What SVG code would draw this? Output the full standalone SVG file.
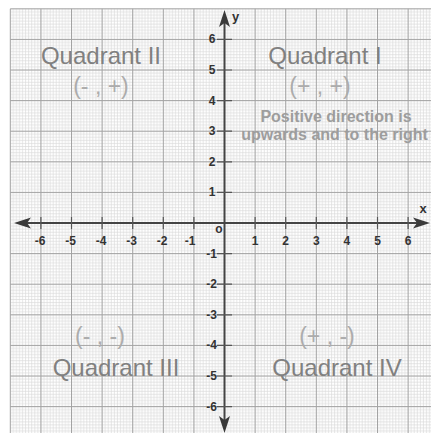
<svg xmlns="http://www.w3.org/2000/svg" width="431" height="433" viewBox="0 0 431 433">
<style>
.major{stroke:#a3a3a3;stroke-width:1;fill:none}
.axis{stroke:#444;stroke-width:2;fill:none}
.tick{stroke:#555;stroke-width:1.2;fill:none}
.head{fill:#3a3a3a}
.num{font-family:"Liberation Sans",Arial,sans-serif;font-weight:bold;font-size:12px;fill:#333}
.quad{font-family:"Liberation Sans",Arial,sans-serif;font-size:24px;fill:#808080;text-anchor:middle}
.sign{font-family:"Liberation Sans",Arial,sans-serif;font-size:23px;fill:#acacac;text-anchor:middle}
.note{font-family:"Liberation Sans",Arial,sans-serif;font-weight:bold;font-size:16px;fill:#9d9d9d;text-anchor:middle}
.lbl{font-family:"Liberation Sans",Arial,sans-serif;font-weight:bold;font-size:13px;fill:#333}
</style>
<defs>
<pattern id="minor" x="10.3" y="8.8" width="30.6" height="30.6" patternUnits="userSpaceOnUse">
<path d="M0 0V30.6M3.06 0V30.6M6.12 0V30.6M9.18 0V30.6M12.24 0V30.6M15.3 0V30.6M18.36 0V30.6M21.42 0V30.6M24.48 0V30.6M27.54 0V30.6M0 0H30.6M0 3.06H30.6M0 6.12H30.6M0 9.18H30.6M0 12.24H30.6M0 15.3H30.6M0 18.36H30.6M0 21.42H30.6M0 24.48H30.6M0 27.54H30.6" stroke="#dadada" stroke-width="0.7" fill="none"/>
</pattern>
</defs>
<rect width="431" height="433" fill="#fff"/>
<g id="grid">
<rect x="10.3" y="8.8" width="421" height="425" fill="url(#minor)"/>
<path class="major" d="M10.3 8.8V433M40.9 8.8V433M71.5 8.8V433M102.1 8.8V433M132.7 8.8V433M163.3 8.8V433M193.9 8.8V433M255.1 8.8V433M285.7 8.8V433M316.3 8.8V433M346.9 8.8V433M377.5 8.8V433M408.1 8.8V433M10.3 8.8H431M10.3 39.4H431M10.3 70H431M10.3 100.6H431M10.3 131.2H431M10.3 161.8H431M10.3 192.4H431M10.3 253.6H431M10.3 284.2H431M10.3 314.8H431M10.3 345.4H431M10.3 376H431M10.3 406.6H431"/>
</g>
<g id="connectors">
<path class="axis" d="M20 223H424M224.5 18V427"/>
<path class="head" d="M14 223L31 217.5L27 223L31 228.5Z"/>
<path class="head" d="M430 223L413 217.5L417 223L413 228.5Z"/>
<path class="head" d="M224.5 10L219 27L224.5 23L230 27Z"/>
<path class="head" d="M224.5 433L219 416L224.5 420L230 416Z"/>
<path class="tick" d="M40.9 217V229M71.5 217V229M102.1 217V229M132.7 217V229M163.3 217V229M193.9 217V229M255.1 217V229M285.7 217V229M316.3 217V229M346.9 217V229M377.5 217V229M408.1 217V229M217 39.4H232M217 70H232M217 100.6H232M217 131.2H232M217 161.8H232M217 192.4H232M217 253.6H232M217 284.2H232M217 314.8H232M217 345.4H232M217 376H232M217 406.6H232"/>
</g>
<g id="x-labels" class="num" text-anchor="middle">
<text x="40" y="245">-6</text>
<text x="70.5" y="245">-5</text>
<text x="101" y="245">-4</text>
<text x="131.5" y="245">-3</text>
<text x="162" y="245">-2</text>
<text x="190" y="245">-1</text>
<text x="255.1" y="245">1</text>
<text x="285.7" y="245">2</text>
<text x="316.3" y="245">3</text>
<text x="346.9" y="245">4</text>
<text x="377.5" y="245">5</text>
<text x="408.1" y="245">6</text>
</g>
<g id="y-labels" class="num" text-anchor="end">
<text x="215.5" y="43.4">6</text>
<text x="215.5" y="74">5</text>
<text x="215.5" y="104.6">4</text>
<text x="215.5" y="135.2">3</text>
<text x="215.5" y="165.8">2</text>
<text x="215.5" y="196.4">1</text>
<text x="217" y="257.6">-1</text>
<text x="217" y="288.2">-2</text>
<text x="217" y="318.8">-3</text>
<text x="217" y="349.4">-4</text>
<text x="217" y="380">-5</text>
<text x="217" y="410.6">-6</text>
</g>
<g id="origin"><text class="num" x="219" y="233" text-anchor="middle" font-size="11">o</text></g>
<g id="axis-y-label"><text class="lbl" x="232" y="21">y</text></g>
<g id="axis-x-label"><text class="lbl" x="423" y="213" text-anchor="middle">x</text></g>
<g id="quadrant-2">
<text class="quad" x="101" y="64">Quadrant II</text>
<text class="sign" x="101" y="94">(- , +)</text>
</g>
<g id="quadrant-1">
<text class="quad" x="325" y="64">Quadrant I</text>
<text class="sign" x="320" y="94">(+ , +)</text>
<text class="note" x="336" y="122">Positive direction is</text>
<text class="note" x="334.5" y="140">upwards and to the right</text>
</g>
<g id="quadrant-3">
<text class="sign" x="100" y="344">(- , -)</text>
<text class="quad" x="116" y="376">Quadrant III</text>
</g>
<g id="quadrant-4">
<text class="sign" x="327" y="344">(+ , -)</text>
<text class="quad" x="337" y="376">Quadrant IV</text>
</g>
</svg>
